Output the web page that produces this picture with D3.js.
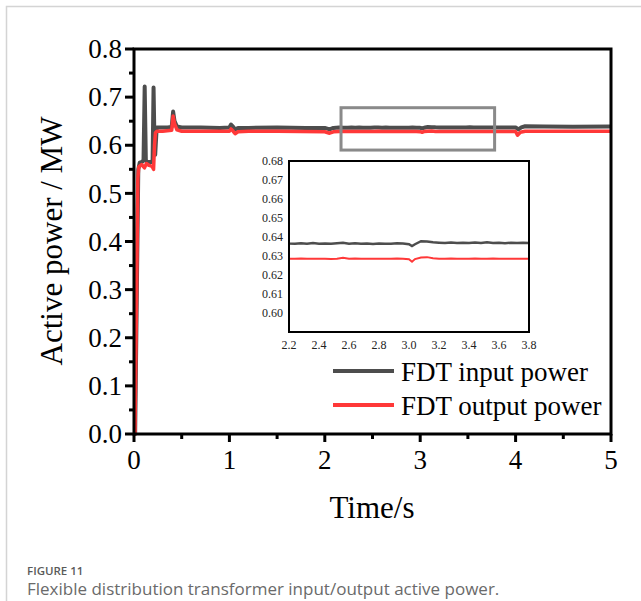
<!DOCTYPE html>
<html><head><meta charset="utf-8">
<script src="https://cdn.jsdelivr.net/npm/d3@7/dist/d3.min.js"></script>
<style>
html,body{margin:0;padding:0;background:#fff;}
svg{display:block;}
</style></head>
<body>
<svg id="chart" width="641" height="601"></svg>
<script>
// ---------- data ----------
const inputTime = [0,0.012,0.03,0.045,0.06,0.09,0.1,0.112,0.124,0.135,0.185,0.195,0.205,0.215,0.222,0.238,0.26,0.35,0.395,0.41,0.425,0.45,0.5,0.7,0.9,1.0,1.017,1.04,1.06,1.09,1.2,1.5,1.8,2.0,2.05,2.09,2.15,
  2.20,2.24,2.28,2.32,2.36,2.40,2.44,2.48,2.52,2.56,2.60,2.64,2.68,2.72,2.76,2.80,2.84,2.88,2.92,2.96,3.00,3.02,3.04,3.08,3.12,3.16,3.20,3.24,3.28,3.32,3.36,3.40,3.44,3.48,3.52,3.56,3.60,3.64,3.68,3.72,3.76,3.80,
  3.9,4.0,4.03,4.06,4.1,4.3,4.6,5.0];
const inputPower = [0,0,0.3,0.55,0.564,0.566,0.57,0.722,0.57,0.565,0.565,0.57,0.72,0.6,0.58,0.637,0.637,0.637,0.638,0.670,0.650,0.639,0.637,0.637,0.636,0.637,0.643,0.638,0.633,0.636,0.636,0.637,0.636,0.636,0.633,0.636,0.637,
  0.6366,0.6364,0.6367,0.6365,0.6368,0.6365,0.6366,0.6364,0.6367,0.6370,0.6365,0.6367,0.6364,0.6366,0.6363,0.6366,0.6365,0.6364,0.6367,0.6366,0.6362,0.6352,0.6362,0.6378,0.6376,0.6372,0.6370,0.6368,0.6371,0.6369,0.6370,0.6368,0.6371,0.6369,0.6372,0.6369,0.6370,0.6367,0.6370,0.6368,0.6370,0.6369,
  0.637,0.637,0.633,0.637,0.6395,0.639,0.6385,0.639];

const outputTime = [0,0.01,0.028,0.04,0.05,0.08,0.11,0.13,0.16,0.19,0.205,0.215,0.225,0.24,0.3,0.395,0.41,0.425,0.45,0.5,0.7,1.0,1.017,1.04,1.06,1.09,1.2,1.5,2.0,2.05,2.09,2.15,
  2.20,2.24,2.28,2.32,2.36,2.40,2.44,2.48,2.52,2.56,2.60,2.64,2.68,2.72,2.76,2.80,2.84,2.88,2.92,2.96,3.00,3.02,3.04,3.08,3.12,3.16,3.20,3.24,3.28,3.32,3.36,3.40,3.44,3.48,3.52,3.56,3.60,3.64,3.68,3.72,3.76,3.80,
  3.9,4.0,4.02,4.05,4.1,4.5,5.0];
const outputPower = [0,0,0.3,0.53,0.555,0.56,0.553,0.562,0.558,0.556,0.55,0.6,0.626,0.629,0.629,0.631,0.661,0.645,0.632,0.629,0.629,0.629,0.634,0.629,0.624,0.628,0.629,0.629,0.628,0.625,0.628,0.6285,
  0.6286,0.6285,0.6287,0.6285,0.6286,0.6285,0.6286,0.6284,0.6286,0.6291,0.6286,0.6287,0.6285,0.6286,0.6285,0.6285,0.6286,0.6285,0.6287,0.6286,0.6283,0.6270,0.6284,0.6292,0.6294,0.6288,0.6286,0.6285,0.6287,0.6285,0.6286,0.6285,0.6287,0.6285,0.6286,0.6287,0.6285,0.6286,0.6285,0.6286,0.6285,0.6286,
  0.6285,0.6285,0.621,0.627,0.629,0.629,0.629];

const xTicks = [0,1,2,3,4,5];
const yTicks = [0,0.1,0.2,0.3,0.4,0.5,0.6,0.7,0.8];
const insetXTicks = [2.2,2.4,2.6,2.8,3.0,3.2,3.4,3.6,3.8];
const insetYTicks = [0.60,0.61,0.62,0.63,0.64,0.65,0.66,0.67,0.68];
const zoomBox = {t0:2.17, t1:3.78, p0:0.59, p1:0.678};
const seriesNames = ["FDT input power","FDT output power"];
const seriesColors = ["#4d4d4d","#ff3838"];

// ---------- chart ----------
const svg = d3.select("#chart");
const serif = "'Liberation Serif','Times New Roman',serif";

// outer frame
svg.append("path").attr("d","M6.5,601 L6.5,6.5 L641,6.5").attr("fill","none").attr("stroke","#d4d4d4").attr("stroke-width",1.5);

const x = d3.scaleLinear().domain([0,5]).range([134,611]);
const y = d3.scaleLinear().domain([0,0.8]).range([434,49]);

const inputData = inputTime.map((t,i)=>[t,inputPower[i]]);
const outputData = outputTime.map((t,i)=>[t,outputPower[i]]);

const line = d3.line().x(d=>x(d[0])).y(d=>y(d[1]));
svg.append("path").datum(inputData).attr("d",line).attr("fill","none").attr("stroke",seriesColors[0]).attr("stroke-width",4).attr("stroke-linejoin","round");
svg.append("path").datum(outputData).attr("d",line).attr("fill","none").attr("stroke",seriesColors[1]).attr("stroke-width",3.5).attr("stroke-linejoin","round");

// zoom box
svg.append("rect").attr("x",x(zoomBox.t0)).attr("y",y(zoomBox.p1))
  .attr("width",x(zoomBox.t1)-x(zoomBox.t0)).attr("height",y(zoomBox.p0)-y(zoomBox.p1))
  .attr("fill","none").attr("stroke","#8a8a8a").attr("stroke-width",3);

// axes
const minorY = d3.range(0.05,0.8,0.1);
const minorX = d3.range(0.5,5,1);
const gY = svg.append("g").attr("transform","translate(134,0)");
gY.selectAll("line.maj").data(yTicks).join("line").attr("x1",-9).attr("x2",0).attr("y1",d=>y(d)).attr("y2",d=>y(d)).attr("stroke","#000").attr("stroke-width",3);
gY.selectAll("line.min").data(minorY).join("line").attr("x1",-5).attr("x2",0).attr("y1",d=>y(d)).attr("y2",d=>y(d)).attr("stroke","#000").attr("stroke-width",3);
gY.selectAll("text").data(yTicks).join("text").attr("x",-12).attr("y",d=>y(d)).attr("dy","0.34em")
  .attr("text-anchor","end").attr("font-family",serif).attr("font-size",27).text(d=>d.toFixed(1));

const gX = svg.append("g").attr("transform","translate(0,434)");
gX.selectAll("line.maj").data(xTicks).join("line").attr("x1",d=>x(d)).attr("x2",d=>x(d)).attr("y1",0).attr("y2",8).attr("stroke","#000").attr("stroke-width",3);
gX.selectAll("line.min").data(minorX).join("line").attr("x1",d=>x(d)).attr("x2",d=>x(d)).attr("y1",0).attr("y2",5).attr("stroke","#000").attr("stroke-width",3);
gX.selectAll("text").data(xTicks).join("text").attr("x",d=>x(d)).attr("y",35)
  .attr("text-anchor","middle").attr("font-family",serif).attr("font-size",27).text(d=>d);

// frame
svg.append("rect").attr("x",134).attr("y",49).attr("width",611-134).attr("height",434-49)
  .attr("fill","none").attr("stroke","#000").attr("stroke-width",3);

// titles
svg.append("text").attr("x",372).attr("y",518).attr("text-anchor","middle").attr("font-family",serif).attr("font-size",31).text("Time/s");
svg.append("text").attr("transform","translate(62,241) rotate(-90)").attr("text-anchor","middle").attr("font-family",serif).attr("font-size",31).text("Active power / MW");

// inset
const ix = d3.scaleLinear().domain([2.2,3.8]).range([289,529]);
const iy = d3.scaleLinear().domain([0.59,0.68]).range([332,161]);
svg.append("rect").attr("x",289).attr("y",161).attr("width",240).attr("height",171).attr("fill","#fff");
svg.append("clipPath").attr("id","insetClip").append("rect").attr("x",289).attr("y",161).attr("width",240).attr("height",171);
const iline = d3.line().x(d=>ix(d[0])).y(d=>iy(d[1]));
const ig = svg.append("g").attr("clip-path","url(#insetClip)");
ig.append("path").datum(inputData).attr("d",iline).attr("fill","none").attr("stroke",seriesColors[0]).attr("stroke-width",2.5);
ig.append("path").datum(outputData).attr("d",iline).attr("fill","none").attr("stroke",seriesColors[1]).attr("stroke-width",2);
svg.append("rect").attr("x",289).attr("y",161).attr("width",240).attr("height",171).attr("fill","none").attr("stroke","#000").attr("stroke-width",2);
svg.selectAll("text.ixl").data(insetXTicks).join("text").attr("class","ixl").attr("x",d=>ix(d)).attr("y",349)
  .attr("text-anchor","middle").attr("font-family",serif).attr("font-size",12).attr("fill","#222").text(d=>d.toFixed(1));
svg.selectAll("text.iyl").data(insetYTicks).join("text").attr("class","iyl").attr("x",283).attr("y",d=>iy(d)).attr("dy","0.34em")
  .attr("text-anchor","end").attr("font-family",serif).attr("font-size",12).attr("fill","#222").text(d=>d.toFixed(2));

// legend
const legY = [371,405];
seriesNames.forEach((n,i)=>{
  svg.append("line").attr("x1",333).attr("x2",394).attr("y1",legY[i]).attr("y2",legY[i]).attr("stroke",seriesColors[i]).attr("stroke-width",4);
  svg.append("text").attr("x",401).attr("y",legY[i]+10).attr("font-family",serif).attr("font-size",27).text(n);
});

// caption
svg.append("text").attr("x",27).attr("y",575).attr("font-family","'Open Sans','Noto Sans',sans-serif").attr("font-size",11.5).attr("font-weight",600).attr("fill","#5a5a5a").text("FIGURE 11");
svg.append("text").attr("x",27).attr("y",595).attr("font-family","'Open Sans','Noto Sans',sans-serif").attr("font-size",17).attr("fill","#6a6a6a").text("Flexible distribution transformer input/output active power.");
</script>
</body></html>
